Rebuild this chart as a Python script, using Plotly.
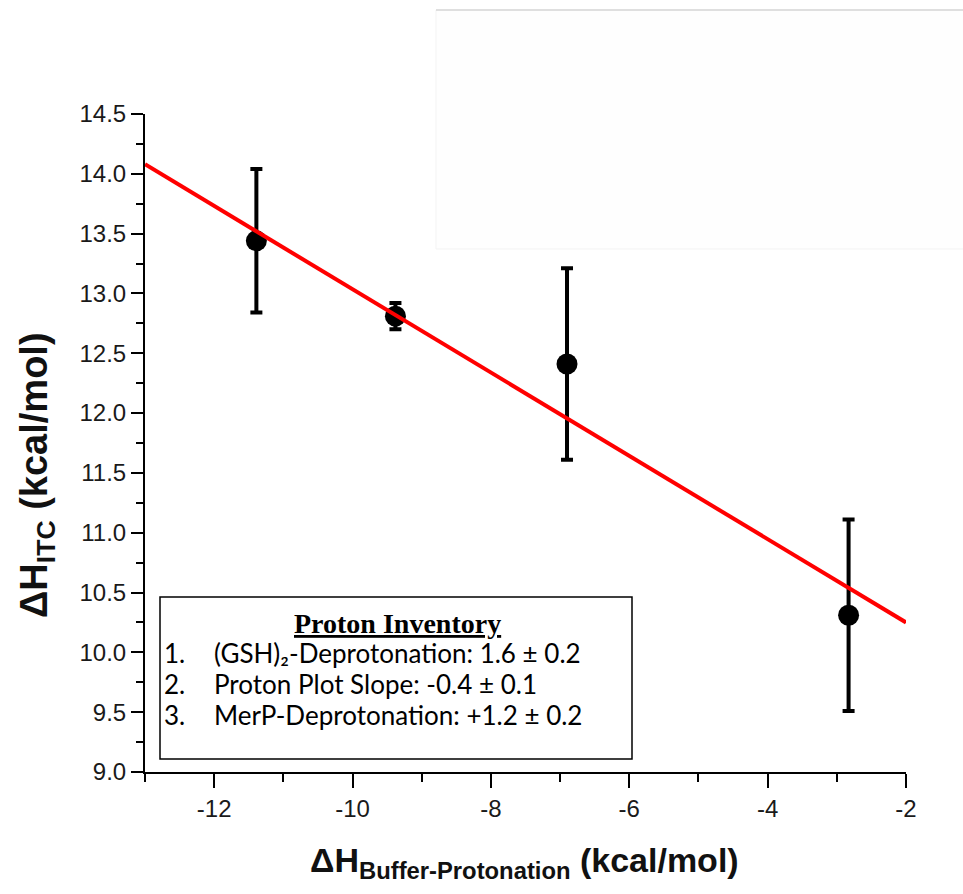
import plotly.graph_objects as go

# Buffer protonation enthalpy vs. measured ITC enthalpy
buffer_dh = [-11.39, -9.38, -6.90, -2.83]
itc_dh = [13.44, 12.81, 12.41, 10.31]
itc_err = [0.60, 0.11, 0.80, 0.80]

# Linear fit endpoints
fit_x = [-13.0, -2.0]
fit_y = [14.08, 10.25]

x_tickvals = [-12, -10, -8, -6, -4, -2]
x_ticktext = ["-12", "-10", "-8", "-6", "-4", "-2"]

inventory_title = "Proton Inventory"
inventory_nums = ["1.", "2.", "3."]
inventory_items = [
    "(GSH)₂-Deprotonation: 1.6 ± 0.2",
    "Proton Plot Slope: -0.4 ± 0.1",
    "MerP-Deprotonation: +1.2 ± 0.2",
]

W, H = 963, 894
L, R, T, B = 145, 57, 114, 122
pw, ph = W - L - R, H - T - B


def px(x):
    return (x - L) / pw


def py(y):
    return (H - B - y) / ph


fig = go.Figure()

fig.add_trace(go.Scatter(
    x=buffer_dh, y=itc_dh, mode="markers",
    marker=dict(size=21, color="black"),
    error_y=dict(type="data", array=itc_err, visible=True,
                 color="black", thickness=4, width=6),
    showlegend=False,
))

fig.add_trace(go.Scatter(
    x=fit_x, y=fit_y, mode="lines",
    line=dict(color="#ff0000", width=4),
    showlegend=False,
))

axis_font = dict(family="Liberation Sans, Arial, sans-serif", size=24, color="#1a1a1a")

fig.update_xaxes(
    range=[-13, -2], tickvals=x_tickvals, ticktext=x_ticktext,
    showline=True, linecolor="black", linewidth=2,
    ticks="outside", ticklen=14, tickwidth=2, tickcolor="black",
    minor=dict(dtick=1, tick0=-13, ticks="outside", ticklen=8, tickwidth=2, tickcolor="black"),
    showgrid=False, zeroline=False, tickfont=axis_font,
)
fig.update_yaxes(
    range=[9.0, 14.5], dtick=0.5, tick0=9.0, tickformat=".1f",
    showline=True, linecolor="black", linewidth=2,
    ticks="outside", ticklen=12, tickwidth=2, tickcolor="black",
    minor=dict(dtick=0.25, tick0=9.0, ticks="outside", ticklen=7, tickwidth=2, tickcolor="black"),
    showgrid=False, zeroline=False, tickfont=axis_font,
)

shapes = [
    # faint panel in the upper right
    dict(type="rect", xref="paper", yref="paper",
         x0=px(436), x1=px(970), y0=py(249), y1=py(10),
         line=dict(color="#f3f3f3", width=1), fillcolor="#fefefe", layer="below"),
    dict(type="line", xref="paper", yref="paper",
         x0=px(436), x1=px(970), y0=py(10), y1=py(10),
         line=dict(color="#d6d6d6", width=1.5), layer="below"),
    # inventory box
    dict(type="rect", xref="paper", yref="paper",
         x0=px(160), x1=px(632), y0=py(759), y1=py(597),
         line=dict(color="black", width=1.5), fillcolor="white", layer="above"),
]

annotations = [
    dict(text="<b>ΔH<sub>Buffer-Protonation</sub> (kcal/mol)</b>",
         xref="paper", yref="paper", x=px(524), y=py(862),
         xanchor="center", yanchor="middle", showarrow=False,
         font=dict(family="Liberation Sans, Arial, sans-serif", size=34, color="#111111")),
    dict(text="<b>ΔH<sub>ITC</sub> (kcal/mol)</b>", textangle=-90,
         xref="paper", yref="paper", x=px(37), y=py(475),
         xanchor="center", yanchor="middle", showarrow=False,
         font=dict(family="Liberation Sans, Arial, sans-serif", size=38, color="#111111")),
    dict(text="<b><u>" + inventory_title + "</u></b>",
         xref="paper", yref="paper", x=px(397), y=py(623),
         xanchor="center", yanchor="middle", showarrow=False,
         font=dict(family="Liberation Serif, Times New Roman, serif", size=28, color="black")),
]

list_font = dict(family="Lato, Carlito, Calibri, sans-serif", size=26, color="black")
for i, (num, item) in enumerate(zip(inventory_nums, inventory_items)):
    yc = 653 + 31 * i
    annotations.append(dict(text=num, xref="paper", yref="paper", x=px(162), y=py(yc),
                            xanchor="left", yanchor="middle", showarrow=False, font=list_font))
    annotations.append(dict(text=item, xref="paper", yref="paper", x=px(212), y=py(yc),
                            xanchor="left", yanchor="middle", showarrow=False, font=list_font))

fig.update_layout(
    width=W, height=H,
    margin=dict(l=L, r=R, t=T, b=B),
    paper_bgcolor="white", plot_bgcolor="white",
    shapes=shapes, annotations=annotations,
    showlegend=False,
)

fig.write_html("out.html")
